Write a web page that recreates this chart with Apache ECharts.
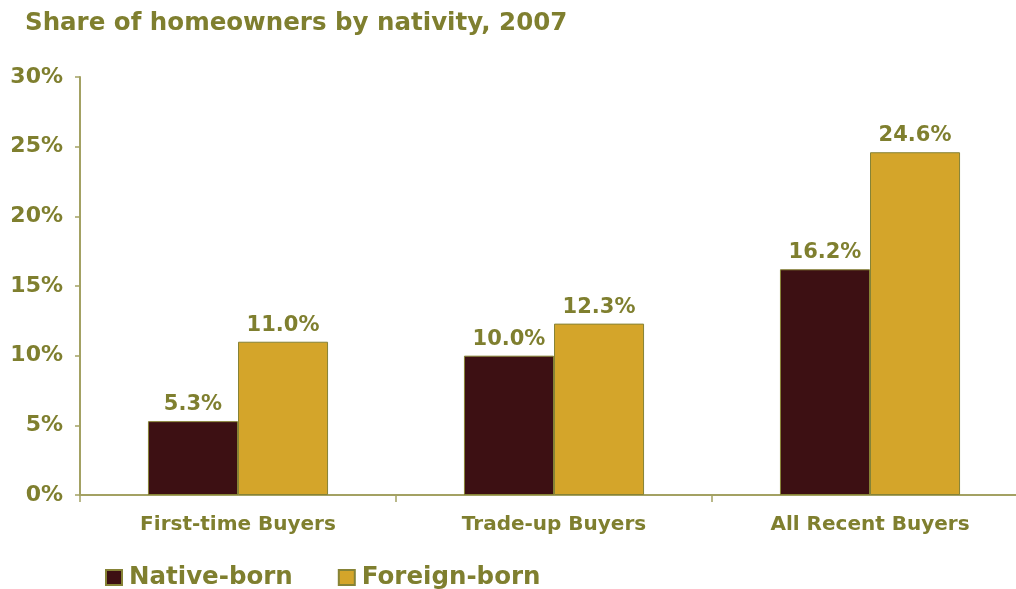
<!DOCTYPE html>
<html>
<head>
<meta charset="utf-8">
<style>
  html, body { margin: 0; padding: 0; background: #ffffff; overflow: hidden; }
  /* the value axis runs past the right edge of the window */
  #chart { width: 1040px; height: 589px; }
</style>
<script src="https://cdn.jsdelivr.net/npm/echarts@6/dist/echarts.min.js"></script>
</head>
<body>
<div id="chart"></div>
<script>
// Share of homeowners by nativity, 2007 (percent)
const categories = ['First-time Buyers', 'Trade-up Buyers', 'All Recent Buyers'];
const nativeBorn = [5.3, 10.0, 16.2];
const foreignBorn = [11.0, 12.3, 24.6];
const seriesNames = ['Native-born', 'Foreign-born'];

const olive = '#7f7f2f';
const axisColor = '#a3a163';
const font = 'DejaVu Sans, Verdana, sans-serif';

const chart = echarts.init(document.getElementById('chart'));

const labelStyle = {
  show: true,
  position: 'top',
  distance: 6,
  color: olive,
  fontFamily: font,
  fontWeight: 'bold',
  fontSize: 21,
  formatter: p => p.value.toFixed(1) + '%'
};

chart.setOption({
  animation: false,
  title: {
    text: 'Share of homeowners by nativity, 2007',
    left: 20,
    top: 6,
    textStyle: { color: olive, fontFamily: font, fontWeight: 'bold', fontSize: 24.5 }
  },
  legend: {
    left: 105,
    top: 565,
    padding: 0,
    itemWidth: 16,
    itemHeight: 15,
    itemGap: 45,
    icon: 'rect',
    textStyle: { color: olive, fontFamily: font, fontWeight: 'bold', fontSize: 24.5, padding: [0, 0, 0, 2] },
    data: seriesNames
  },
  grid: { left: 80, top: 77, width: 948, height: 418, containLabel: false },
  xAxis: {
    type: 'category',
    data: categories,
    axisLine: { lineStyle: { color: axisColor, width: 2 } },
    axisTick: { show: true, length: 7, lineStyle: { color: axisColor, width: 1.5 } },
    axisLabel: { color: olive, fontFamily: font, fontWeight: 'bold', fontSize: 20, margin: 20 }
  },
  yAxis: {
    type: 'value',
    min: 0,
    max: 30,
    interval: 5,
    splitLine: { show: false },
    axisLine: { show: true, lineStyle: { color: axisColor, width: 2 } },
    axisTick: { show: true, length: 5, lineStyle: { color: axisColor, width: 1.5 } },
    axisLabel: { color: olive, fontFamily: font, fontWeight: 'bold', fontSize: 22, margin: 17, formatter: '{value}%' }
  },
  series: [
    {
      name: seriesNames[0],
      type: 'bar',
      data: nativeBorn,
      barGap: '0%',
      barCategoryGap: '43%',
      itemStyle: { color: '#3d1013', borderColor: '#868336', borderWidth: 1 },
      label: labelStyle
    },
    {
      name: seriesNames[1],
      type: 'bar',
      data: foreignBorn,
      itemStyle: { color: '#d4a52a', borderColor: '#868336', borderWidth: 1 },
      label: labelStyle
    }
  ]
});
</script>
</body>
</html>
